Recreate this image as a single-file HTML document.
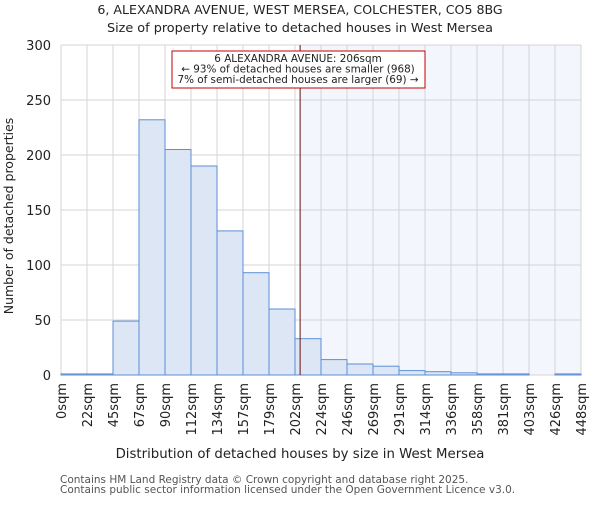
<!DOCTYPE html>
<html><head><meta charset="utf-8"><style>
body{margin:0;background:#fff;}
svg text{font-family:"DejaVu Sans","Liberation Sans",sans-serif;fill:#222;}
</style></head><body>
<svg id="chart" width="600" height="500" xmlns="http://www.w3.org/2000/svg">
<text x="300" y="14" font-size="12.6" text-anchor="middle">6, ALEXANDRA AVENUE, WEST MERSEA, COLCHESTER, CO5 8BG</text>
<text x="300" y="32" font-size="12.8" text-anchor="middle">Size of property relative to detached houses in West Mersea</text>
<g id="plot"></g>
<text x="300" y="458" font-size="13.3" text-anchor="middle">Distribution of detached houses by size in West Mersea</text>
<text transform="translate(13,216) rotate(-90)" font-size="12.5" text-anchor="middle">Number of detached properties</text>
<text x="60" y="483" font-size="10.5" style="fill:#555">Contains HM Land Registry data © Crown copyright and database right 2025.</text>
<text x="60" y="493" font-size="10.5" style="fill:#555">Contains public sector information licensed under the Open Government Licence v3.0.</text>
</svg>
<script>
const binLabels=["0sqm","22sqm","45sqm","67sqm","90sqm","112sqm","134sqm","157sqm","179sqm","202sqm","224sqm","246sqm","269sqm","291sqm","314sqm","336sqm","358sqm","381sqm","403sqm","426sqm","448sqm"];
const binEdges=[0,22.4,44.8,67.2,89.6,112,134.4,156.8,179.2,201.6,224,246.4,268.8,291.2,313.6,336,358.4,380.8,403.2,425.6,448];
const counts=[1,1,49,232,205,190,131,93,60,33,14,10,8,4,3,2,1,1,0,1];
const yTicks=[0,50,100,150,200,250,300];
const marker=206;
const L=61,R=581,T=45,B=375;
const x=v=>L+(v-binEdges[0])/(binEdges[binEdges.length-1]-binEdges[0])*(R-L);
const y=v=>B-v/300*(B-T);
const NS="http://www.w3.org/2000/svg";
const g=document.getElementById('plot');
function mk(t,a){const e=document.createElementNS(NS,t);for(const k in a)e.setAttribute(k,a[k]);g.appendChild(e);return e;}
let e=mk('rect',{x:x(marker),y:T,width:R-x(marker),height:B-T,fill:'#f3f6fd'});


binEdges.forEach(v=>{const l=mk('line',{x1:x(v),x2:x(v),y1:T,y2:B,stroke:'#d4d4d4','stroke-width':1});

});
yTicks.forEach(v=>{const l=mk('line',{x1:L,x2:R,y1:y(v),y2:y(v),stroke:'#d4d4d4','stroke-width':1});


const t=mk('text',{x:L-10,y:y(v)+5,'font-size':13,'text-anchor':'end'});t.textContent=v;

});
counts.forEach((c,i)=>{const r=mk('rect',{x:x(binEdges[i]),y:y(c),width:x(binEdges[i+1])-x(binEdges[i]),height:B-y(c),fill:'#dde6f4',stroke:'#5b8fd6','stroke-width':1});

});
binLabels.forEach((s,i)=>{const px=x(binEdges[i]);const t=mk('text',{transform:`translate(${px+5},${B+8}) rotate(-90)`,'font-size':13,'text-anchor':'end'});t.textContent=s;

});
e=mk('line',{x1:x(marker),x2:x(marker),y1:T,y2:B,stroke:'#661111','stroke-width':1});


e=mk('rect',{x:172,y:51,width:253,height:37,fill:'#fff',stroke:'#c00000','stroke-width':1});


["6 ALEXANDRA AVENUE: 206sqm","← 93% of detached houses are smaller (968)","7% of semi-detached houses are larger (69) →"].forEach((s,i)=>{const t=mk('text',{x:298,y:62+i*10.5,'font-size':10.4,'text-anchor':'middle'});t.textContent=s;

});
</script>
</body></html>
